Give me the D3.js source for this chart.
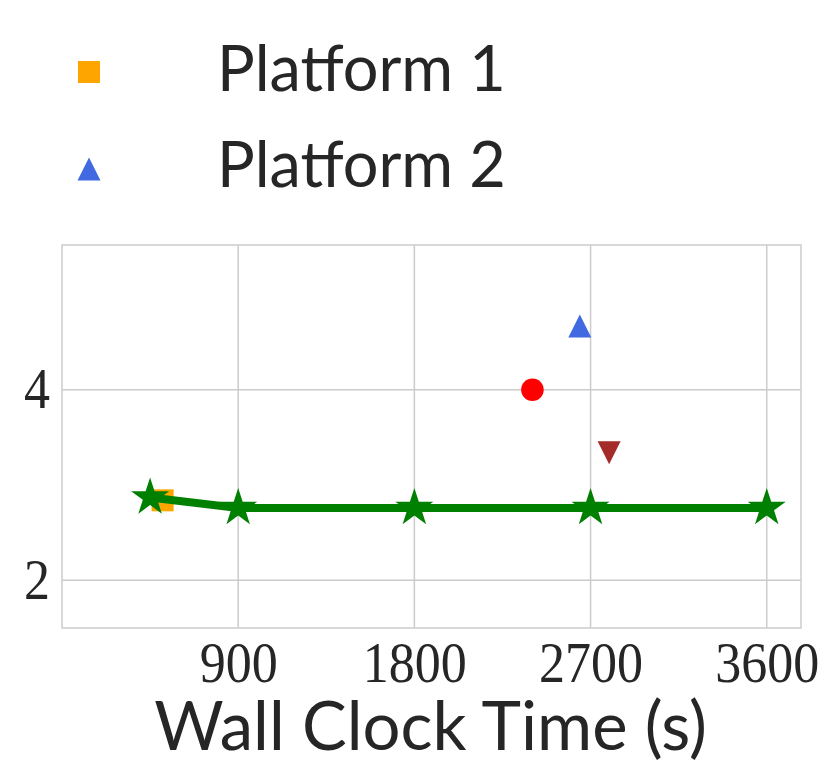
<!DOCTYPE html>
<html>
<head>
<meta charset="utf-8">
<script src="https://cdn.jsdelivr.net/npm/d3@7"></script>
<style>
  body { margin: 0; background: #fff; }
  svg { display: block; }
</style>
</head>
<body>
<div id="chart"></div>
<script>
// values
const xTicks = [900, 1800, 2700, 3600];
const yTicks = [2, 4];

const starTimes = [450, 900, 1800, 2700, 3600];
const starValues = [2.87, 2.76, 2.76, 2.76, 2.76];

const p1Time = [514];
const p1Value = [2.84];
const p2Time = [2645];
const p2Value = [4.67];
const circleTime = [2403];
const circleValue = [4.0];
const downTime = [2795];
const downValue = [3.34];

const legendLabels = ['Platform 1', 'Platform 2'];

const width = 830;
const height = 771;
const margin = { top: 245, right: 29, bottom: 143, left: 62 };

const svg = d3.select('#chart')
  .append('svg')
  .attr('width', width)
  .attr('height', height);

const x = d3.scaleLinear()
  .domain([0, 3775])
  .range([margin.left, width - margin.right]);

const y = d3.scaleLinear()
  .domain([1.5, 5.52])
  .range([height - margin.bottom, margin.top]);

const gridColor = '#cccccc';
const textColor = '#262626';
const serif = '"Liberation Serif", "DejaVu Serif", serif';
const sans = 'Lato, "Open Sans", sans-serif';

// grid
svg.append('g')
  .selectAll('line')
  .data(xTicks)
  .join('line')
  .attr('x1', d => x(d)).attr('x2', d => x(d))
  .attr('y1', margin.top).attr('y2', height - margin.bottom)
  .attr('stroke', gridColor).attr('stroke-width', 1.5);

svg.append('g')
  .selectAll('line')
  .data(yTicks)
  .join('line')
  .attr('x1', margin.left).attr('x2', width - margin.right)
  .attr('y1', d => y(d)).attr('y2', d => y(d))
  .attr('stroke', gridColor).attr('stroke-width', 1.5);

// frame
svg.append('rect')
  .attr('x', margin.left)
  .attr('y', margin.top)
  .attr('width', width - margin.left - margin.right)
  .attr('height', height - margin.bottom - margin.top)
  .attr('fill', 'none')
  .attr('stroke', gridColor)
  .attr('stroke-width', 1.5);

// tick labels (narrow digits like Computer Modern)
const xAxis = d3.axisBottom(x).tickValues(xTicks).tickFormat(d3.format('d')).tickSize(0).tickPadding(13);
svg.append('g')
  .attr('transform', `translate(0,${height - margin.bottom})`)
  .call(xAxis)
  .call(g => g.select('.domain').remove())
  .selectAll('text')
  .attr('font-family', serif)
  .attr('font-size', 58)
  .attr('fill', textColor)
  .attr('textLength', d => String(d).length * 26)
  .attr('lengthAdjust', 'spacingAndGlyphs');

const yAxis = d3.axisLeft(y).tickValues(yTicks).tickFormat(d3.format('d')).tickSize(0).tickPadding(12);
svg.append('g')
  .attr('transform', `translate(${margin.left},0)`)
  .call(yAxis)
  .call(g => g.select('.domain').remove())
  .selectAll('text')
  .attr('font-family', serif)
  .attr('font-size', 56)
  .attr('fill', textColor)
  .attr('textLength', 26)
  .attr('lengthAdjust', 'spacingAndGlyphs');

svg.append('text')
  .attr('x', (margin.left + width - margin.right) / 2 - 1)
  .attr('y', 750)
  .attr('text-anchor', 'middle')
  .attr('font-family', sans)
  .attr('font-size', 67)
  .attr('fill', textColor)
  .text('Wall Clock Time (s)');

// marker shapes around a centre point
const squarePath = (cx, cy, s) => `M${cx - s},${cy - s}h${2 * s}v${2 * s}h${-2 * s}Z`;
const triUp = (cx, cy, s) => `M${cx},${cy - s}L${cx + s},${cy + s}L${cx - s},${cy + s}Z`;
const triDown = (cx, cy, s) => `M${cx},${cy + s}L${cx + s},${cy - s}L${cx - s},${cy - s}Z`;
const starPath = (cx, cy, r) => {
  const ri = r * 0.381966;
  const pts = d3.range(10).map(i => {
    const a = -Math.PI / 2 + i * Math.PI / 5;
    const rr = i % 2 === 0 ? r : ri;
    return [cx + rr * Math.cos(a), cy + rr * Math.sin(a)];
  });
  return 'M' + pts.map(p => p.join(',')).join('L') + 'Z';
};

const plot = svg.append('g');

plot.selectAll('.p1')
  .data(p1Time)
  .join('path')
  .attr('class', 'p1')
  .attr('d', (d, i) => squarePath(x(d), y(p1Value[i]), 11))
  .attr('fill', 'orange');

plot.selectAll('.p2')
  .data(p2Time)
  .join('path')
  .attr('class', 'p2')
  .attr('d', (d, i) => triUp(x(d), y(p2Value[i]), 11.5))
  .attr('fill', 'royalblue');

plot.selectAll('.circ')
  .data(circleTime)
  .join('circle')
  .attr('class', 'circ')
  .attr('cx', d => x(d))
  .attr('cy', (d, i) => y(circleValue[i]))
  .attr('r', 11.3)
  .attr('fill', 'red');

plot.selectAll('.down')
  .data(downTime)
  .join('path')
  .attr('class', 'down')
  .attr('d', (d, i) => triDown(x(d), y(downValue[i]), 11.5))
  .attr('fill', 'brown');

const line = d3.line()
  .x(d => x(d[0]))
  .y(d => y(d[1]));

const starData = starTimes.map((t, i) => [t, starValues[i]]);

plot.append('path')
  .datum(starData)
  .attr('d', line)
  .attr('fill', 'none')
  .attr('stroke', 'green')
  .attr('stroke-width', 8)
  .attr('stroke-linejoin', 'round');

plot.selectAll('.star')
  .data(starData)
  .join('path')
  .attr('class', 'star')
  .attr('d', d => starPath(x(d[0]), y(d[1]), 20))
  .attr('fill', 'green');

// legend
const legend = svg.append('g');
const legendY = [72, 169];
legend.append('path')
  .attr('d', squarePath(89, legendY[0], 11))
  .attr('fill', 'orange');
legend.append('path')
  .attr('d', triUp(89, legendY[1], 11.5))
  .attr('fill', 'royalblue');
legend.selectAll('text')
  .data(legendLabels)
  .join('text')
  .attr('x', 217)
  .attr('y', (d, i) => [91, 187][i])
  .attr('font-family', sans)
  .attr('font-size', 63)
  .attr('fill', textColor)
  .text(d => d);
</script>
</body>
</html>
